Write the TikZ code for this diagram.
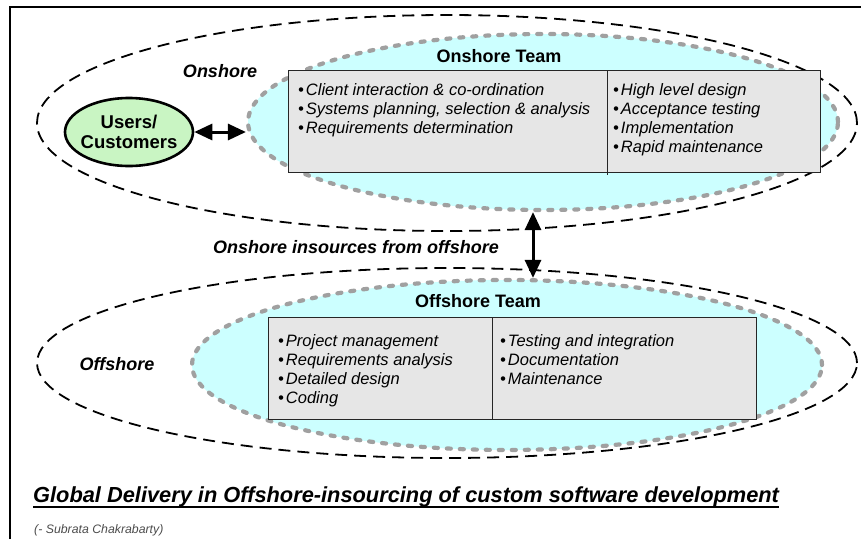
\documentclass[tikz,border=0pt]{standalone}
\usepackage{fontspec}
\setmainfont{Liberation Sans}
\usetikzlibrary{shapes.geometric,arrows.meta,calc}
\definecolor{teamfill}{HTML}{CCFFFF}
\definecolor{boxfill}{HTML}{E6E6E6}
\definecolor{dotgray}{HTML}{A0A0A0}
\definecolor{userfill}{HTML}{C9F5C3}
\tikzset{
  outerell/.style={ellipse, draw=black, line width=1.8pt, dash pattern=on 12pt off 7pt, inner sep=0pt},
  innerell/.style={ellipse, draw=dotgray, fill=teamfill, line width=4.2pt, line cap=round, dash pattern=on 4pt off 9pt, inner sep=0pt},
  taskbox/.style={draw=black!85, fill=boxfill, line width=0.9pt},
  item/.style={anchor=base west, inner sep=0pt, font=\fontsize{16.5}{19}\selectfont\itshape},
  heading/.style={anchor=base, inner sep=0pt, font=\fontsize{18}{20}\selectfont\bfseries},
  region/.style={anchor=base, inner sep=0pt, font=\fontsize{18}{20}\selectfont\bfseries\itshape},
  dblarrow/.style={{Triangle[length=18pt,width=16pt]}-{Triangle[length=18pt,width=16pt]}, line width=3pt},
}
\begin{document}
\begin{tikzpicture}[x=1pt,y=-1pt]
\useasboundingbox (0,0) rectangle (861,539);
% frame
\draw[line width=2.2pt] (10,539) -- (10,7) -- (861,7);

% onshore
\node[outerell, minimum width=820pt, minimum height=216pt] (onOut) at (447,123) {};
\node[innerell, minimum width=590pt, minimum height=176pt] (onIn) at (543,122) {};
\node[heading] (onTitle) at (499,62) {Onshore Team};
\draw[taskbox] (288,70) rectangle (820,172);
\coordinate (onDivTop) at (607,70);
\coordinate (onDivBot) at (607,175);
\draw[line width=0.9pt, black!85] (onDivTop) -- (onDivBot);
\node[item] (onL1) at (298,95) {\textbullet\hspace{2pt}Client interaction \& co-ordination};
\node[item] (onL2) at (298,114) {\textbullet\hspace{2pt}Systems planning, selection \& analysis};
\node[item] (onL3) at (298,133) {\textbullet\hspace{2pt}Requirements determination};
\node[item] (onR1) at (613,95) {\textbullet\hspace{2pt}High level design};
\node[item] (onR2) at (613,114) {\textbullet\hspace{2pt}Acceptance testing};
\node[item] (onR3) at (613,133) {\textbullet\hspace{2pt}Implementation};
\node[item] (onR4) at (613,152) {\textbullet\hspace{2pt}Rapid maintenance};
\node[region] (onLabel) at (220,77) {Onshore};

% users
\node[ellipse, draw=black, fill=userfill, line width=2.6pt, minimum width=128pt, minimum height=68pt, inner sep=0pt] (users) at (129,132) {};
\node[heading, font=\fontsize{18.5}{20}\selectfont\bfseries] (usersT1) at (129,128) {Users/};
\node[heading, font=\fontsize{18.5}{20}\selectfont\bfseries] (usersT2) at (129,148) {Customers};
\draw[dblarrow] (users.east) -- (users.east -| onIn.west);

% middle
\node[region] (midLabel) at (356,253) {Onshore insources from offshore};

% offshore
\node[outerell, minimum width=820pt, minimum height=190pt] (offOut) at (447,363) {};
\node[innerell, minimum width=630pt, minimum height=170pt] (offIn) at (507,365) {};
\node[heading] (offTitle) at (478,307) {Offshore Team};
\draw[taskbox] (268,317) rectangle (756,419);
\coordinate (offDivTop) at (492,317);
\coordinate (offDivBot) at (492,419);
\draw[line width=0.9pt, black!85] (offDivTop) -- (offDivBot);
\node[item] (offL1) at (278,346) {\textbullet\hspace{2pt}Project management};
\node[item] (offL2) at (278,365) {\textbullet\hspace{2pt}Requirements analysis};
\node[item] (offL3) at (278,384) {\textbullet\hspace{2pt}Detailed design};
\node[item] (offL4) at (278,403) {\textbullet\hspace{2pt}Coding};
\node[item] (offR1) at (500,346) {\textbullet\hspace{2pt}Testing and integration};
\node[item] (offR2) at (500,365) {\textbullet\hspace{2pt}Documentation};
\node[item] (offR3) at (500,384) {\textbullet\hspace{2pt}Maintenance};
\node[region] (offLabel) at (117,370) {Offshore};

\draw[dblarrow] (onIn.south -| 533,0) -- (offIn.north -| 533,0);

% title
\node[anchor=base west, inner sep=0pt, font=\fontsize{21.8}{24}\selectfont\bfseries\itshape] (title) at (33,502) {Global Delivery in Offshore-insourcing of custom software development};
\draw[line width=1.8pt] ($(title.base west)+(0,5)$) -- ($(title.base east)+(0,5)$);
\node[anchor=base west, inner sep=0pt, font=\fontsize{12.3}{14}\selectfont\itshape, text=black!70] (author) at (34,533) {(- Subrata Chakrabarty)};
\end{tikzpicture}
\end{document}
